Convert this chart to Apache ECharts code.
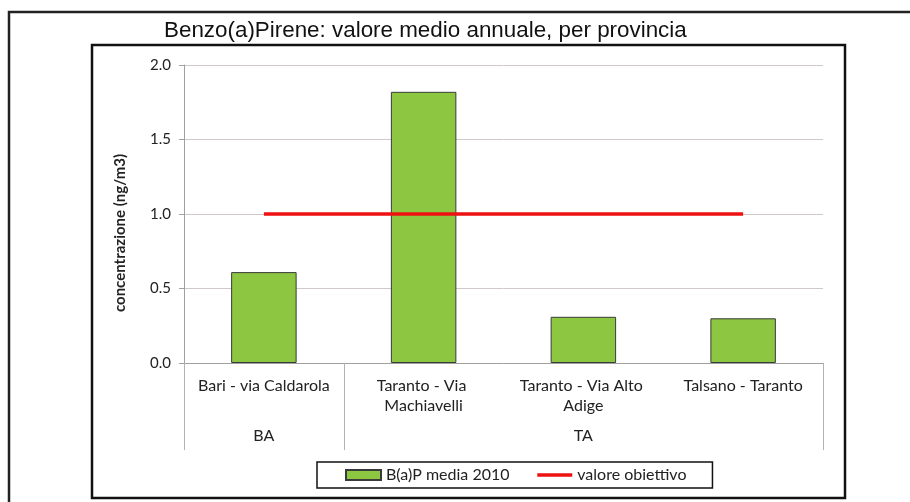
<!DOCTYPE html>
<html>
<head>
<meta charset="utf-8">
<script src="https://cdn.jsdelivr.net/npm/echarts@6/dist/echarts.min.js"></script>
<style>
	html, body { margin: 0; padding: 0; background: #fff; }
	#chart { width: 910px; height: 502px; }
</style>
</head>
<body>
<div id="chart"></div>
<script>
// stazioni e provincia di appartenenza
var stations = ['Bari - via Caldarola', 'Taranto - Via Machiavelli', 'Taranto - Via Alto Adige', 'Talsano - Taranto'];
var provinces = ['BA', 'TA', 'TA', 'TA'];
var media2010 = [0.61, 1.82, 0.31, 0.30];
var obiettivo = [1.0, 1.0, 1.0, 1.0];
var yTicks = [0, 0.5, 1.0, 1.5, 2.0];

var labelFont = 'Lato, "Open Sans", sans-serif';

// indice centrale di ogni gruppo (dove scrivere la sigla della provincia)
function groupMiddle (index) {
	var start = index, end = index;
	while (start > 0 && provinces[start - 1] === provinces[index]) start--;
	while (end < provinces.length - 1 && provinces[end + 1] === provinces[index]) end++;
	return Math.floor((start + end + 1) / 2) === index || (start === end && start === index);
}

var chart = echarts.init(document.getElementById('chart'));
var option = {
	animation: false,
	title: {
		text: 'Benzo(a)Pirene: valore medio annuale, per provincia',
		left: 164,
		top: 20,
		padding: 0,
		textStyle: {
			fontFamily: '"Liberation Sans", Arial, sans-serif',
			fontWeight: 'normal',
			fontSize: 22.4,
			color: '#111'
		}
	},
	graphic: [
		{ type: 'rect', shape: { x: 9, y: 12, width: 1000, height: 1000 }, style: { fill: 'none', stroke: '#222', lineWidth: 2.5 }, silent: true },
		{ type: 'rect', shape: { x: 92, y: 45, width: 753, height: 453 }, style: { fill: 'none', stroke: '#111', lineWidth: 2.5 }, silent: true }
	],
	legend: {
		left: 317,
		top: 462,
		padding: [5, 26, 5, 28],
		borderColor: '#111',
		borderWidth: 1.5,
		itemWidth: 35,
		itemHeight: 10,
		itemGap: 26,
		textStyle: { fontFamily: labelFont, fontSize: 16, color: '#222' },
		data: [
			{ name: 'B(a)P media 2010', icon: 'rect' },
			{ name: 'valore obiettivo', itemStyle: { opacity: 0 }, lineStyle: { width: 3.5, color: '#ee1111' } }
		]
	},
	grid: {
		left: 184,
		right: 87,
		top: 65,
		bottom: 139
	},
	xAxis: [
		{
			type: 'category',
			data: stations,
			position: 'bottom',
			axisLine: { lineStyle: { color: '#a0a0a0', width: 1 } },
			axisTick: { show: false },
			axisLabel: {
				interval: 0,
				margin: 13,
				width: 150,
				overflow: 'break',
				lineHeight: 20,
				fontFamily: labelFont,
				fontSize: 16,
				color: '#222'
			}
		},
		{
			type: 'category',
			data: stations,
			position: 'bottom',
			axisLine: { show: false },
			axisTick: {
				show: true,
				length: 87,
				interval: function (index) {
					return index === 0 || provinces[index] !== provinces[index - 1];
				},
				lineStyle: { color: '#b8b0b0', width: 1 }
			},
			axisLabel: {
				interval: 0,
				margin: 65,
				fontFamily: labelFont,
				fontSize: 16,
				color: '#222',
				formatter: function (value, index) {
					return groupMiddle(index) ? provinces[index] : '';
				}
			}
		}
	],
	yAxis: {
		type: 'value',
		min: yTicks[0],
		max: yTicks[yTicks.length - 1],
		interval: 0.5,
		name: 'concentrazione (ng/m3)',
		nameLocation: 'middle',
		nameGap: 56,
		nameTextStyle: {
			fontFamily: labelFont,
			fontSize: 15,
			fontWeight: 'bold',
			color: '#222',
			padding: [0, 38, 0, 0]
		},
		axisLine: { show: true, lineStyle: { color: '#a0a0a0' } },
		axisTick: { show: true, length: 5, lineStyle: { color: '#a0a0a0' } },
		axisLabel: {
			margin: 13,
			fontFamily: labelFont,
			fontSize: 15,
			color: '#222',
			formatter: function (v) { return v.toFixed(1); }
		},
		splitLine: { lineStyle: { color: '#d2c8c8', width: 1 } }
	},
	series: [
		{
			name: 'B(a)P media 2010',
			type: 'bar',
			barWidth: '41%',
			data: media2010,
			itemStyle: { color: '#8dc641', borderColor: '#3a3a3a', borderWidth: 1 }
		},
		{
			name: 'valore obiettivo',
			type: 'line',
			data: obiettivo,
			symbol: 'none',
			lineStyle: { color: '#ee1111', width: 3.5 },
			itemStyle: { color: '#ee1111' }
		}
	]
};
chart.setOption(option);
</script>
</body>
</html>
